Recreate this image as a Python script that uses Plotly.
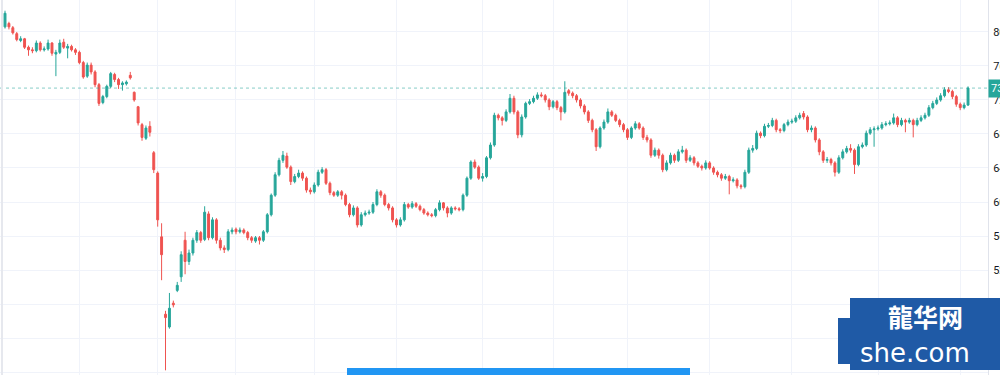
import plotly.graph_objects as go

# ---- data (price values) ----
open_ = [80.6, 81.0, 80.5, 79.8, 79.0, 79.2, 78.2, 77.9, 77.8, 78.7,
         77.9, 78.0, 78.7, 77.4, 77.6, 78.8, 78.1, 78.3, 77.9, 77.6,
         76.4, 74.8, 76.1, 75.3, 73.8, 71.7, 72.4, 73.6, 75.0, 74.4,
         73.8, 73.9, 74.9, 72.9, 71.2, 69.1, 67.5, 68.9, 65.8, 63.4,
         55.9, 46.8, 45.3, 48.1, 49.6, 51.2, 55.5, 53.0, 54.0, 55.5,
         56.4, 55.6, 58.6, 55.8, 57.9, 55.5, 54.6, 54.4, 56.5, 56.8,
         56.5, 56.7, 56.4, 55.8, 55.4, 55.8, 55.5, 56.5, 58.5, 60.8,
         63.2, 64.9, 65.4, 64.1, 62.4, 63.0, 63.4, 62.8, 61.4, 61.2,
         62.0, 63.5, 63.8, 62.2, 61.1, 60.8, 61.2, 60.8, 59.7, 58.5,
         59.3, 57.3, 58.5, 58.7, 58.8, 59.7, 61.2, 60.8, 59.7, 59.3,
         57.9, 57.3, 57.9, 59.7, 59.4, 59.8, 59.5, 59.1, 58.7, 58.5,
         58.4, 59.1, 59.9, 59.3, 58.7, 59.3, 59.2, 59.1, 60.8, 62.8,
         64.7, 64.1, 62.8, 63.0, 65.2, 66.7, 70.2, 69.9, 69.6, 70.6,
         72.2, 70.6, 67.9, 70.0, 71.6, 71.8, 72.2, 72.6, 72.5, 72.0,
         71.2, 71.8, 71.1, 70.6, 73.1, 72.8, 72.5, 72.0, 71.3, 70.6,
         69.6, 68.5, 66.5, 68.7, 69.4, 70.6, 70.2, 69.6, 69.1, 68.5,
         67.6, 68.7, 69.2, 68.7, 67.6, 67.3, 65.5, 66.1, 65.5, 63.8,
         64.6, 65.5, 64.9, 65.9, 66.1, 64.9, 65.2, 64.6, 64.2, 64.0,
         64.6, 64.0, 63.5, 63.2, 62.8, 63.0, 62.5, 62.6, 61.9, 61.8,
         63.5, 66.1, 66.3, 68.1, 67.8, 68.9, 69.0, 69.6, 68.5, 68.4,
         69.1, 69.4, 69.5, 69.9, 70.4, 70.0, 68.5, 68.7, 67.3, 65.9,
         64.9, 65.0, 64.6, 63.5, 65.2, 65.9, 66.3, 66.1, 64.4, 66.5,
         66.7, 68.1, 68.5, 68.6, 68.7, 69.1, 69.2, 69.3, 69.9, 69.1,
         69.6, 69.4, 69.6, 69.1, 69.6, 69.9, 70.2, 71.1, 71.6, 72.0,
         72.5, 73.2, 73.0, 72.4, 71.5, 71.1, 71.4]

high = [82.5, 81.2, 80.7, 80.0, 79.5, 79.3, 78.4, 78.2, 79.0, 78.9,
        78.3, 79.1, 78.8, 77.9, 79.1, 79.2, 78.6, 78.5, 78.1, 77.8,
        76.6, 76.4, 76.4, 75.5, 74.0, 72.6, 73.8, 75.3, 75.2, 74.6,
        74.2, 74.3, 75.3, 73.0, 71.3, 69.3, 69.0, 69.5, 66.0, 63.6,
        57.5, 47.2, 49.3, 48.4, 50.6, 54.2, 56.5, 54.4, 55.8, 56.7,
        56.6, 59.5, 58.9, 58.2, 58.1, 55.8, 54.9, 56.8, 57.0, 57.0,
        57.0, 56.9, 56.6, 56.0, 56.0, 56.0, 56.7, 58.7, 61.0, 63.5,
        65.2, 66.0, 65.8, 64.3, 63.3, 63.8, 63.6, 63.0, 61.7, 62.3,
        63.8, 64.1, 64.0, 62.4, 61.3, 61.4, 61.4, 61.0, 59.9, 59.6,
        59.5, 58.8, 59.0, 59.1, 60.0, 61.5, 61.4, 61.0, 59.9, 59.5,
        58.1, 58.2, 60.0, 59.9, 60.1, 60.0, 59.7, 59.3, 58.9, 58.7,
        59.3, 60.2, 60.0, 59.5, 59.5, 59.5, 59.4, 61.0, 63.0, 64.9,
        65.0, 64.3, 63.4, 65.4, 67.0, 70.5, 70.4, 70.1, 70.9, 72.7,
        72.5, 70.8, 70.3, 71.8, 72.1, 72.5, 72.9, 72.9, 72.7, 72.2,
        72.0, 72.0, 71.3, 74.2, 73.3, 73.0, 72.7, 72.2, 71.5, 70.8,
        69.8, 68.7, 68.9, 69.7, 71.0, 70.8, 70.4, 69.8, 69.3, 68.7,
        68.9, 69.5, 69.4, 68.9, 67.9, 67.5, 66.4, 66.3, 65.7, 64.9,
        65.8, 65.7, 66.2, 66.6, 66.3, 65.5, 65.4, 64.8, 64.4, 64.9,
        64.8, 64.2, 63.7, 63.4, 63.3, 63.2, 62.9, 62.8, 62.1, 63.8,
        66.4, 66.7, 68.4, 68.3, 69.2, 69.3, 69.9, 69.8, 68.7, 69.3,
        69.7, 69.8, 70.2, 70.5, 70.7, 70.2, 69.0, 68.9, 67.5, 66.1,
        65.3, 65.2, 64.8, 65.5, 66.2, 66.6, 66.8, 66.3, 66.8, 67.0,
        68.4, 68.8, 68.9, 69.0, 69.4, 69.5, 69.6, 70.4, 70.1, 69.9,
        69.8, 69.9, 69.8, 69.9, 70.2, 70.5, 71.4, 71.9, 72.3, 72.8,
        73.5, 73.5, 73.2, 72.6, 71.7, 71.7, 73.6]

low = [80.4, 80.3, 79.7, 78.9, 78.8, 78.0, 77.2, 77.5, 77.6, 77.7,
       77.7, 77.8, 77.2, 74.8, 77.4, 78.0, 76.9, 77.7, 77.3, 76.2,
       74.5, 74.6, 75.0, 73.5, 71.3, 71.5, 72.2, 73.4, 74.1, 73.3,
       73.1, 73.7, 74.4, 71.8, 69.0, 67.2, 67.3, 67.7, 63.4, 57.1,
       50.8, 40.2, 45.1, 47.6, 49.4, 50.6, 51.5, 52.6, 53.7, 55.2,
       55.2, 55.4, 55.5, 55.6, 55.1, 54.3, 54.0, 54.2, 56.2, 56.2,
       56.3, 56.2, 55.5, 55.2, 55.2, 55.0, 55.3, 56.3, 58.3, 60.6,
       63.0, 64.6, 63.9, 62.0, 62.2, 62.8, 62.5, 61.1, 60.9, 61.0,
       61.8, 63.3, 62.0, 60.8, 60.6, 60.6, 60.3, 59.5, 58.2, 58.3,
       57.0, 57.1, 58.3, 58.5, 58.6, 59.5, 60.5, 59.5, 59.0, 57.6,
       57.0, 57.1, 57.7, 59.2, 59.2, 59.3, 58.9, 58.5, 58.3, 58.2,
       58.2, 58.9, 59.0, 58.2, 58.5, 59.0, 58.9, 58.9, 60.6, 62.6,
       63.9, 62.6, 62.4, 62.8, 65.0, 66.5, 69.6, 69.0, 69.4, 70.4,
       70.3, 67.5, 67.6, 69.8, 71.4, 71.6, 72.0, 72.3, 71.7, 70.8,
       71.0, 70.8, 69.6, 70.4, 72.5, 72.2, 71.7, 71.0, 70.3, 69.3,
       68.2, 66.0, 66.3, 68.5, 69.2, 70.0, 69.4, 68.8, 68.2, 67.3,
       67.4, 68.5, 68.5, 67.3, 67.0, 65.2, 65.3, 65.1, 63.5, 63.6,
       64.4, 64.6, 64.7, 65.7, 64.6, 64.7, 64.3, 64.0, 63.7, 63.8,
       63.8, 63.2, 62.9, 62.5, 62.6, 60.9, 62.3, 61.6, 61.5, 61.6,
       63.3, 65.8, 66.1, 67.5, 67.6, 68.7, 68.8, 68.2, 68.1, 68.2,
       68.9, 69.2, 69.3, 69.7, 69.7, 68.2, 68.2, 67.0, 65.5, 64.6,
       64.6, 64.3, 63.0, 63.3, 65.0, 65.7, 65.8, 63.3, 64.2, 66.3,
       66.5, 67.9, 66.5, 68.4, 68.5, 68.9, 69.0, 69.1, 68.8, 68.9,
       68.2, 69.2, 67.6, 68.9, 69.4, 69.7, 70.0, 70.9, 71.4, 71.8,
       72.3, 72.8, 72.1, 71.2, 70.8, 70.9, 71.3]

close = [82.2, 80.6, 79.9, 79.1, 79.2, 78.2, 77.9, 77.8, 78.7, 77.9,
         78.0, 78.7, 77.5, 77.6, 78.7, 78.2, 78.3, 77.9, 77.6, 76.4,
         74.7, 76.1, 75.3, 73.8, 71.6, 72.4, 73.6, 75.1, 74.4, 73.8,
         74.0, 74.1, 74.6, 72.0, 69.3, 67.6, 68.7, 68.2, 63.8, 57.9,
         53.8, 46.4, 47.5, 47.9, 50.2, 53.8, 53.0, 54.0, 55.5, 56.4,
         55.5, 58.8, 55.8, 57.9, 55.5, 54.6, 54.4, 56.5, 56.7, 56.5,
         56.7, 56.4, 55.8, 55.5, 55.8, 55.5, 56.5, 58.5, 60.8, 63.2,
         64.9, 65.5, 64.1, 62.4, 63.0, 63.4, 62.8, 61.4, 61.2, 62.0,
         63.5, 63.8, 62.2, 61.1, 60.8, 61.2, 60.8, 59.7, 58.5, 59.3,
         57.3, 58.5, 58.7, 58.8, 59.7, 61.2, 60.8, 59.7, 59.3, 57.9,
         57.3, 57.9, 59.7, 59.4, 59.8, 59.5, 59.1, 58.7, 58.5, 58.4,
         59.1, 59.9, 59.3, 58.7, 59.3, 59.2, 59.1, 60.8, 62.8, 64.7,
         64.1, 62.8, 63.0, 65.2, 66.7, 70.2, 69.9, 69.6, 70.6, 72.2,
         70.6, 67.9, 70.0, 71.6, 71.8, 72.2, 72.6, 72.5, 72.0, 71.2,
         71.8, 71.1, 70.6, 72.9, 72.8, 72.5, 72.0, 71.3, 70.6, 69.6,
         68.5, 66.5, 68.7, 69.4, 70.6, 70.2, 69.6, 69.1, 68.5, 67.6,
         68.7, 69.2, 68.7, 67.6, 67.3, 65.5, 66.1, 65.5, 63.8, 64.6,
         65.5, 64.9, 65.9, 66.1, 64.9, 65.2, 64.6, 64.2, 64.0, 64.6,
         64.0, 63.5, 63.2, 62.8, 63.0, 62.5, 62.6, 61.9, 61.8, 63.5,
         66.1, 66.3, 68.1, 67.8, 68.9, 69.0, 69.6, 68.5, 68.4, 69.1,
         69.4, 69.5, 69.9, 70.2, 70.0, 68.5, 68.7, 67.3, 65.9, 64.9,
         65.0, 64.6, 63.5, 65.2, 65.9, 66.3, 66.1, 64.4, 66.5, 66.7,
         68.1, 68.5, 68.6, 68.7, 69.1, 69.2, 69.3, 69.9, 69.1, 69.6,
         69.4, 69.6, 69.1, 69.6, 69.9, 70.2, 71.1, 71.6, 72.0, 72.5,
         73.2, 73.0, 72.4, 71.5, 71.1, 71.4, 73.4]

bar_index = list(range(len(close)))
month_starts = [19, 39, 59, 79, 100, 122, 140, 159, 180, 201, 223, 244]
price_ticks = [40, 44, 48, 52, 56, 60, 64, 68, 72, 76, 80, 84]
last_price = close[-1]

UP = "#26a69a"
DOWN = "#ef5350"
GRID = "#f0f3fa"

fig = go.Figure()
fig.add_trace(go.Candlestick(
    x=bar_index, open=open_, high=high, low=low, close=close,
    increasing=dict(line=dict(color=UP, width=1), fillcolor=UP),
    decreasing=dict(line=dict(color=DOWN, width=1), fillcolor=DOWN),
    whiskerwidth=0, hoverinfo="skip", showlegend=False,
))

W, H = 1000, 375
ML, MR, MT, MB = 0, 12, 0, 0
PW = W - ML - MR


def px(xp):
    return xp / PW


def py(yp):
    return 1 - yp / H


shapes = [
    # last price dotted line
    dict(type="line", xref="paper", yref="y", x0=0, x1=1, y0=last_price, y1=last_price,
         line=dict(color="rgba(38,166,154,0.55)", width=1, dash="dot")),
    # left border
    dict(type="line", xref="paper", yref="paper", x0=0.002, x1=0.002, y0=0, y1=1,
         line=dict(color="#e6e8ee", width=2)),
    # blue bar at bottom
    dict(type="rect", xref="paper", yref="paper", x0=px(347), x1=px(690), y0=-0.05, y1=py(368),
         fillcolor="#2196f3", line=dict(width=0)),
    # watermark patch
    dict(type="rect", xref="paper", yref="paper", x0=px(850), x1=px(1000), y0=py(370), y1=py(298),
         fillcolor="#1f5aa6", line=dict(width=0)),
    dict(type="rect", xref="paper", yref="paper", x0=px(838), x1=px(852), y0=py(364), y1=py(318),
         fillcolor="#1f5aa6", line=dict(width=0)),
]

annotations = [
    dict(x=1, xref="paper", y=last_price, yref="y", xanchor="left", yanchor="middle",
         text=f"{last_price:.2f}", showarrow=False, bgcolor=UP, borderpad=2,
         font=dict(color="white", size=11, family="Roboto, sans-serif")),
    dict(x=px(925), xref="paper", y=py(316), yref="paper", xanchor="center", yanchor="middle",
         text="<b>龍华网</b>", showarrow=False,
         font=dict(color="white", size=25, family="Noto Sans CJK SC")),
    dict(x=px(915), xref="paper", y=py(353), yref="paper", xanchor="center", yanchor="middle",
         text="she.com", showarrow=False,
         font=dict(color="white", size=26, family="DejaVu Sans")),
]

fig.update_layout(
    width=W, height=H,
    margin=dict(l=ML, r=MR, t=MT, b=MB, pad=0),
    paper_bgcolor="white", plot_bgcolor="white",
    font=dict(family="Roboto, sans-serif", size=11, color="#131722"),
    xaxis=dict(range=[-1.28, 251.1], rangeslider=dict(visible=False),
               tickmode="array", tickvals=month_starts, showticklabels=False,
               showgrid=True, gridcolor=GRID, gridwidth=1, zeroline=False, showline=False,
               fixedrange=True),
    yaxis=dict(side="right", range=[39.65, 83.76], tickmode="array", tickvals=price_ticks,
               tickformat=".2f", showgrid=True, gridcolor=GRID, gridwidth=1, zeroline=False,
               showline=True, linecolor="#e0e3eb", linewidth=1, ticks="", automargin=False,
               ticklabelstandoff=2, fixedrange=True),
    shapes=shapes, annotations=annotations,
    showlegend=False,
)

fig.write_html("out.html", config={"displayModeBar": False, "staticPlot": True},
               post_script="document.body.style.margin='0';document.body.style.overflow='hidden';")
